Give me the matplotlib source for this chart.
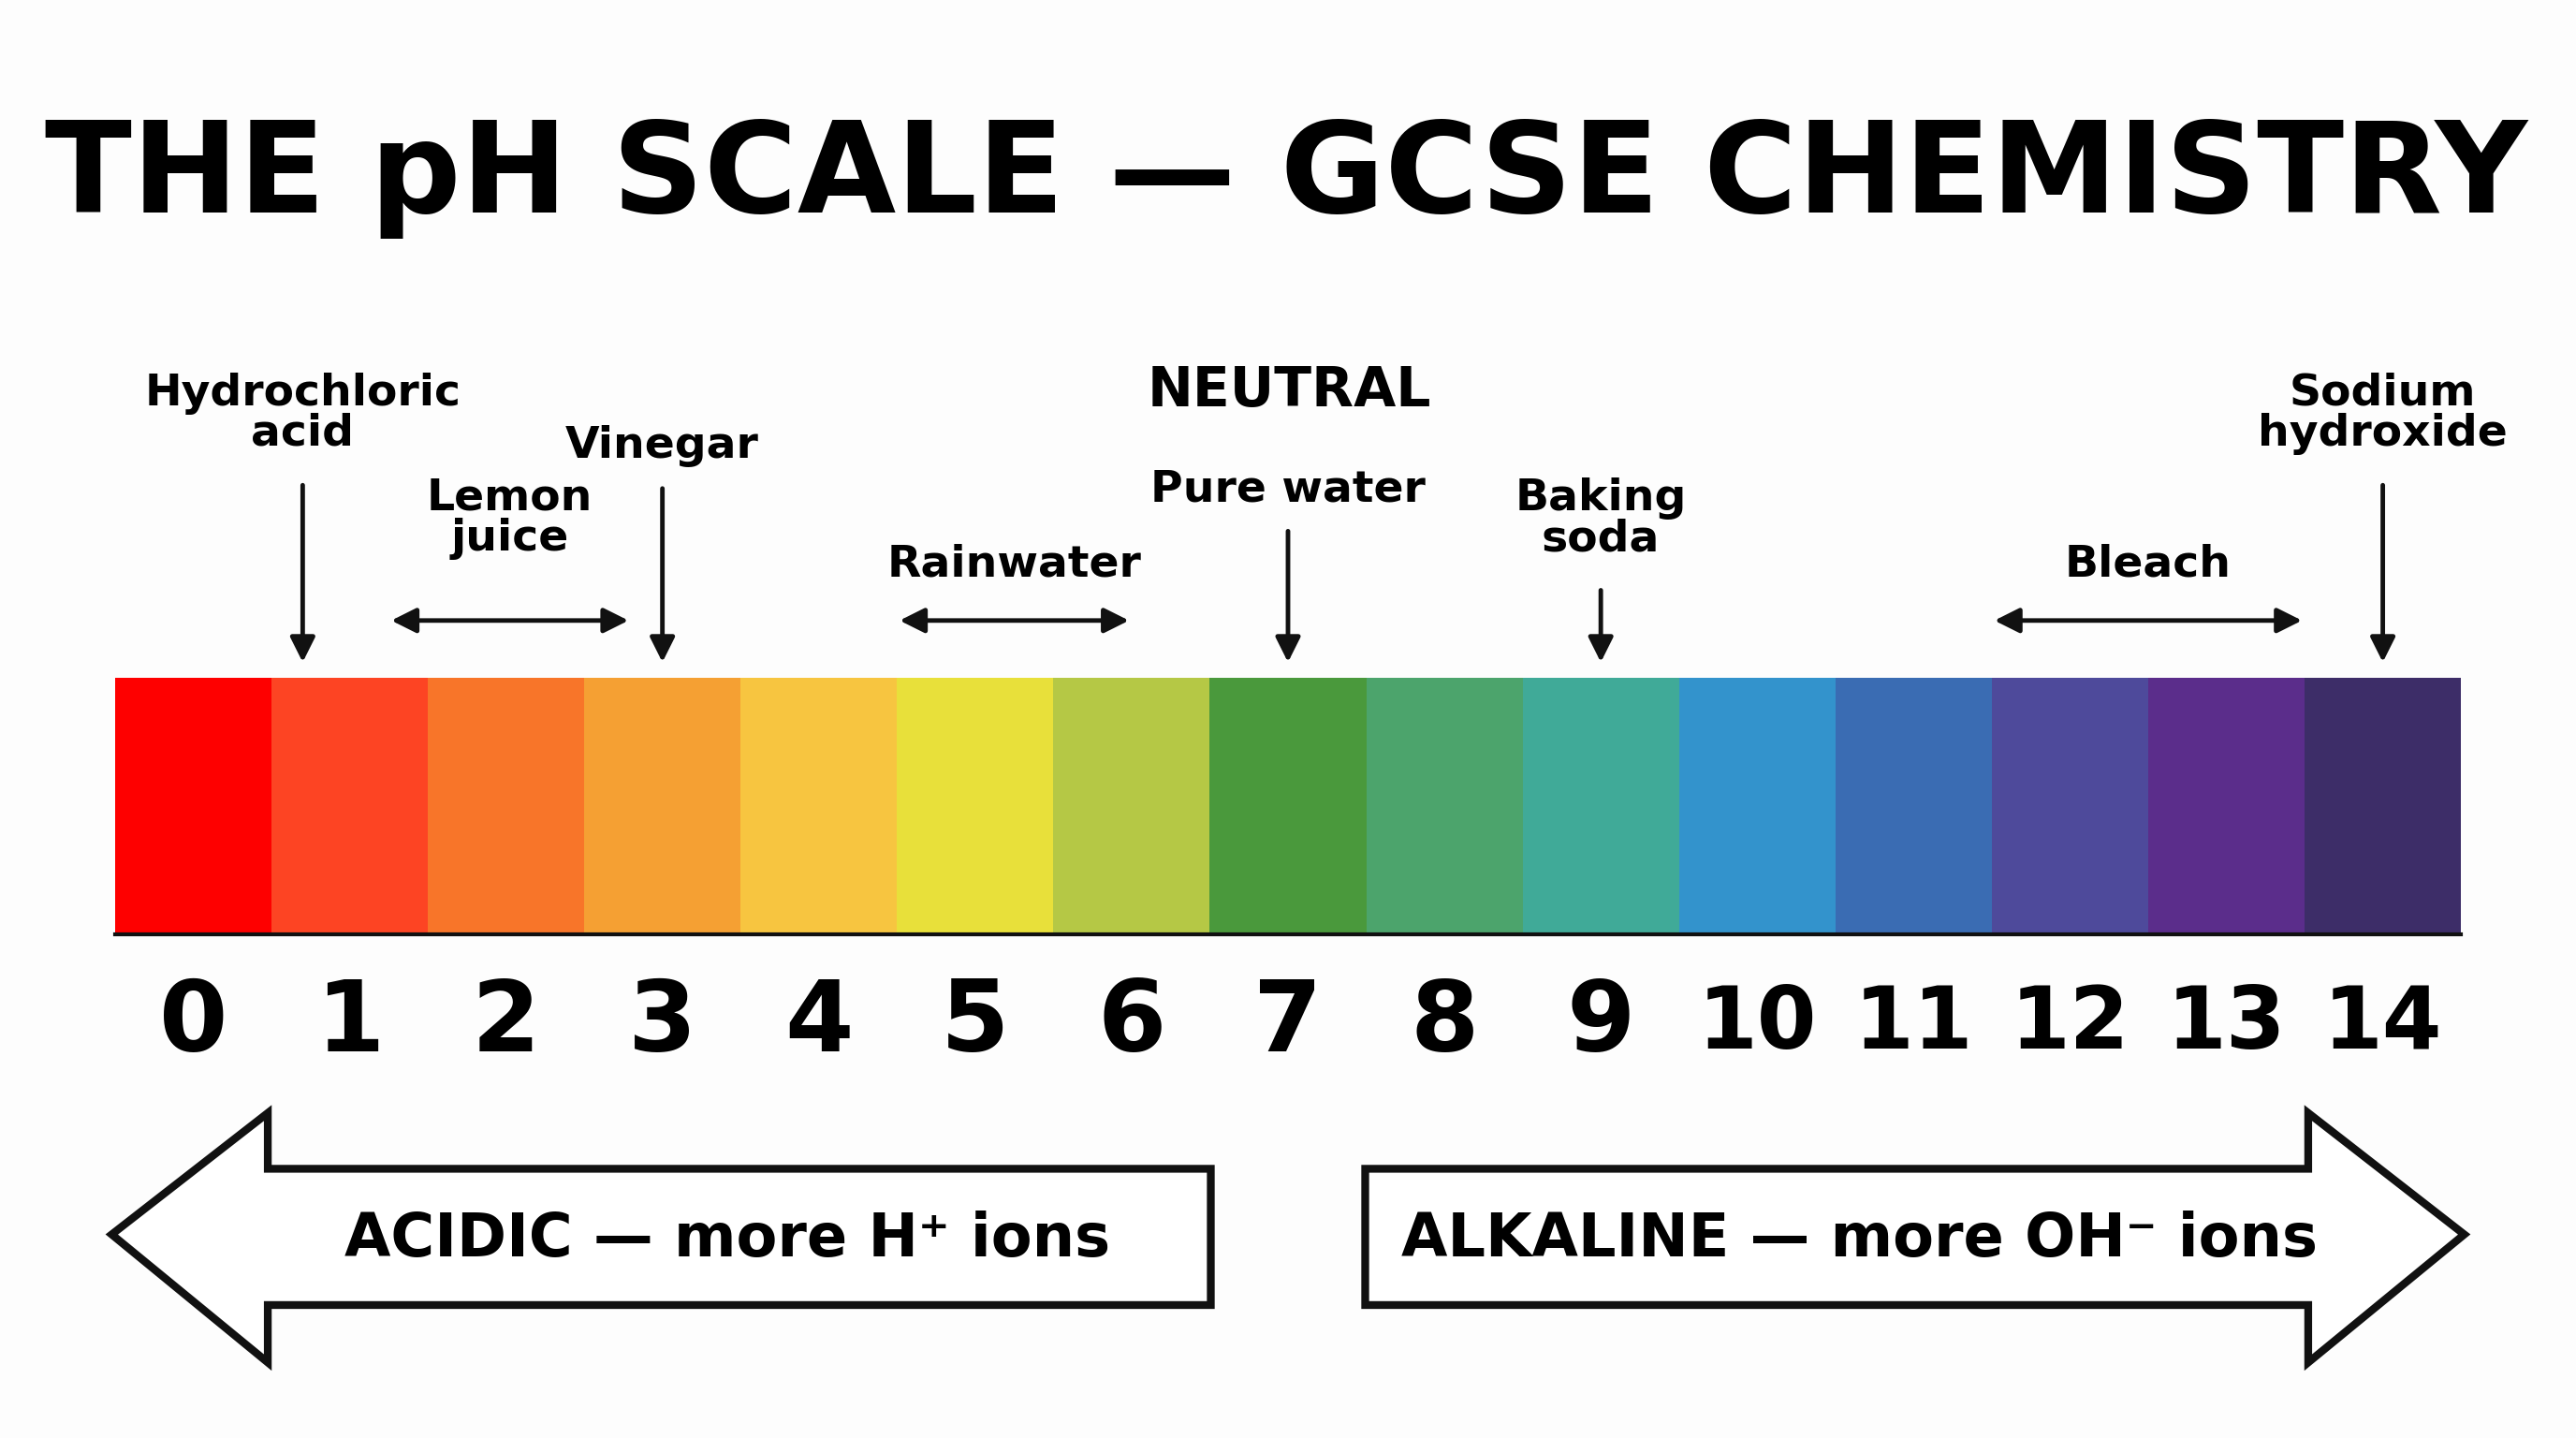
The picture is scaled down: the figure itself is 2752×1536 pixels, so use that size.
import matplotlib
matplotlib.use("Agg")
import matplotlib.pyplot as plt
from matplotlib.patches import Rectangle, Polygon

FAM = ['DejaVu Sans']

ph_values = list(range(15))
cell_colors = ['#FE0000', '#FD4423', '#F87529', '#F5A033', '#F7C540', '#E8E03A', '#B5C845',
               '#4A993C', '#4CA46C', '#40AA98', '#3393CC', '#3A6CB3', '#4E4A9B', '#5B2D8B', '#3D2D68']
point_labels = ['Hydrochloric\nacid', 'Vinegar', 'Pure water', 'Baking\nsoda', 'Sodium\nhydroxide']
point_ph = [0.7, 3.0, 7.0, 9.0, 14.0]
point_text_y = [252, 272, 298, 316, 252]
range_labels = ['Lemon\njuice', 'Rainwater', 'Bleach']
range_lo = [1.25, 4.5, 11.5]
range_hi = [2.8, 6.0, 13.5]
range_text_y = [316, 344, 344]
title = 'THE pH SCALE — GCSE CHEMISTRY'

W, H = 1568, 876
X0, CW = 70, 95.2
def px(x):
    return (x - X0) / CW

fig = plt.figure(figsize=(27.52, 15.36), dpi=100)
fig.patch.set_facecolor('#FDFDFD')
ax = fig.add_axes([0, 0, 1, 1])
ax.set_xlim(px(0), px(W)); ax.set_ylim(H, 0); ax.axis('off')

for p, c in zip(ph_values, cell_colors):
    ax.add_patch(Rectangle((p, 413), 1, 155, facecolor=c, edgecolor='none'))
    ax.text(p + 0.5, 624, str(p), ha='center', va='center', fontsize=76 if p < 10 else 66,
            fontweight='bold', family=FAM)
ax.plot([0, 15], [569, 569], color='#111', lw=3)

ax.text(px(783), 108, title, ha='center', va='center', fontsize=98, fontweight='bold', family=FAM)
ax.text(px(785), 238, 'NEUTRAL', ha='center', va='center', fontsize=42, fontweight='bold', family=FAM)

akw = dict(arrowstyle='-|>', color='#111', lw=3.5, mutation_scale=40)
LFS = 34
for lab, p, ty in zip(point_labels, point_ph, point_text_y):
    x = p + 0.5
    ax.text(x, ty, lab, ha='center', va='center', fontsize=LFS, fontweight='bold', family=FAM, linespacing=0.95)
    top = ty + (42 if '\n' in lab else 24)
    ax.annotate('', xy=(x, 405), xytext=(x, top), arrowprops=akw)
for lab, lo, hi, ty in zip(range_labels, range_lo, range_hi, range_text_y):
    a, b = lo + 0.5, hi + 0.5
    ax.text((a + b) / 2, ty, lab, ha='center', va='center', fontsize=LFS, fontweight='bold', family=FAM, linespacing=0.95)
    ax.annotate('', xy=(a, 378), xytext=(b, 378), arrowprops=dict(arrowstyle='<|-|>', color='#111', lw=3.5, mutation_scale=40))

left = [(68, 752), (163, 678), (163, 712), (737, 712), (737, 795), (163, 795), (163, 830)]
right = [(1500, 752), (1405, 678), (1405, 712), (831, 712), (831, 795), (1405, 795), (1405, 830)]
for poly in (left, right):
    ax.add_patch(Polygon([(px(x), y) for x, y in poly], closed=True, facecolor='white',
                         edgecolor='#111', lw=6, joinstyle='miter'))
ax.text(px(443), 755, 'ACIDIC — more H⁺ ions', ha='center', va='center', fontsize=46, fontweight='bold', family=FAM)
ax.text(px(1132), 755, 'ALKALINE — more OH⁻ ions', ha='center', va='center', fontsize=46, fontweight='bold', family=FAM)

fig.savefig('out.png', dpi=100, facecolor=fig.get_facecolor())
